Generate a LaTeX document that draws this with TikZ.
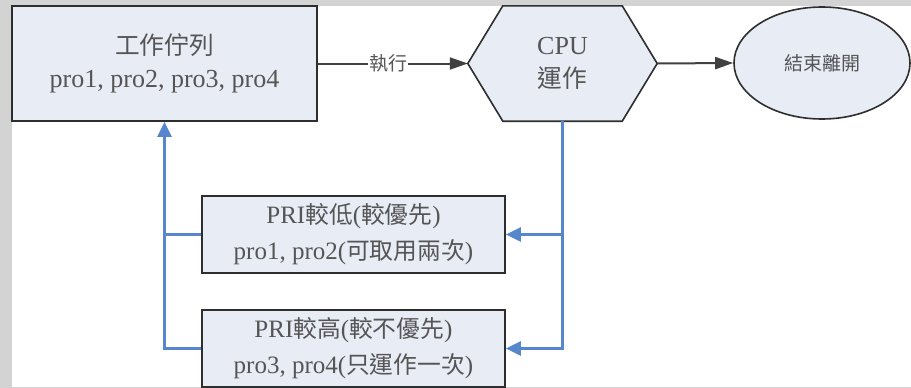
\documentclass[tikz,border=0pt]{standalone}
\usepackage{fontspec}
\setmainfont{Liberation Serif}
\newfontfamily\cjk{Noto Sans CJK TC}[Scale=0.95]
\usetikzlibrary{arrows.meta,shapes.geometric,shadows}
\definecolor{boxfill}{HTML}{E8ECF5}
\definecolor{bluel}{HTML}{5686CC}
\definecolor{txt}{HTML}{555555}
\definecolor{bord}{HTML}{2E2E2E}
\definecolor{framegrey}{HTML}{D3D3D3}
\tikzset{
  procbox/.style={draw=bord, fill=boxfill, line width=1.7pt, align=center, text=txt,
    inner sep=0pt, drop shadow={shadow xshift=1.2pt, shadow yshift=-1.2pt, fill=black!35}},
  bigtext/.style={font=\fontsize{26}{33}\selectfont},
  midtext/.style={font=\fontsize{25}{36}\selectfont},
  blackarrow/.style={draw=black!75, line width=2pt, -{Triangle[length=18pt,width=12pt]}},
  bluearrow/.style={draw=bluel, line width=2.4pt, -{Triangle[length=15pt,width=14pt]}},
  blueline/.style={draw=bluel, line width=2.4pt},
}
\begin{document}
\begin{tikzpicture}[x=1pt,y=-1pt]
\fill[framegrey] (0,0) rectangle (911,388);
\fill[white] (12,6) rectangle (911,386.5);
\useasboundingbox (0,0) rectangle (911,388);

% top queue box
\node[procbox, bigtext, minimum width=305, minimum height=115] (queue) at (164.5,63.5)
  {{\cjk 工作佇列}\\pro1, pro2, pro3, pro4};

% CPU hexagon
\node[align=center, text=txt, bigtext, minimum width=189, minimum height=115, inner sep=0pt] (cpu) at (562.5,63.5)
  {CPU\\{\cjk 運作}};
\draw[draw=bord, fill=boxfill, line width=1.6pt]
  (cpu.west) -- ([xshift=35]cpu.north west) -- ([xshift=-35]cpu.north east)
  -- (cpu.east) -- ([xshift=-35]cpu.south east) -- ([xshift=35]cpu.south west) -- cycle;
\node[align=center, text=txt, bigtext, inner sep=0pt] at (cpu.center) {CPU\\{\cjk 運作}};

% end ellipse
\node[ellipse, draw=bord, fill=boxfill, line width=1.6pt, text=txt,
  minimum width=176, minimum height=112, inner sep=0pt,
  font=\fontsize{20}{24}\selectfont\cjk] (end) at (822,63) {結束離開};

% priority boxes
\node[procbox, midtext, minimum width=303, minimum height=77] (low) at (353.5,234.5)
  {PRI{\cjk 較低}({\cjk 較優先})\\pro1, pro2({\cjk 可取用兩次})};
\node[procbox, midtext, minimum width=303, minimum height=77] (high) at (353.5,348.5)
  {PRI{\cjk 較高}({\cjk 較不優先})\\pro3, pro4({\cjk 只運作一次})};

% connectors
\draw[blackarrow] (queue.east) -- node[pos=0.47, fill=white, inner sep=1pt, text=txt,
  font=\fontsize{20}{24}\selectfont\cjk] {執行} (cpu.west);
\draw[blackarrow] (cpu.east) -- (end.west);

\coordinate (rj) at (cpu.south |- low.east);
\draw[blueline] (cpu.south) -- (rj);
\draw[bluearrow] (rj) -- (low.east);
\draw[bluearrow] (rj) |- (high.east);

\coordinate (lj) at (queue.south |- low.west);
\draw[blueline] (low.west) -- (lj);
\draw[blueline] (high.west) -| (lj);
\draw[bluearrow] (lj) -- (queue.south);
\end{tikzpicture}
\end{document}
